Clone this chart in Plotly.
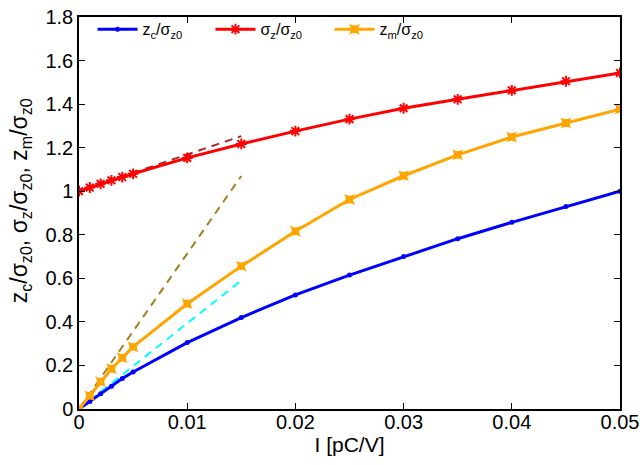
import plotly.graph_objects as go

# Intensity I [pC/V]
current = [0, 0.001, 0.002, 0.003, 0.004, 0.005, 0.01, 0.015, 0.02,
           0.025, 0.03, 0.035, 0.04, 0.045, 0.05]

# Normalised quantities
zc_ratio = [0, 0.035, 0.07, 0.105, 0.14, 0.17, 0.305, 0.42, 0.524,
            0.615, 0.70, 0.782, 0.857, 0.93, 1.0]
sigma_ratio = [1.0, 1.017, 1.034, 1.05, 1.065, 1.08, 1.153, 1.217, 1.276,
               1.331, 1.381, 1.422, 1.463, 1.505, 1.543]
zm_ratio = [0, 0.06, 0.125, 0.185, 0.235, 0.285, 0.483, 0.656, 0.816,
            0.962, 1.071, 1.167, 1.249, 1.313, 1.377]

# Small-current linear asymptotes
asym_x = [0, 0.015]
asym_sigma = [1.0, 1.253]
asym_zm = [0, 1.07]
asym_zc = [0, 0.59]

x_ticks = [0, 0.01, 0.02, 0.03, 0.04, 0.05]
x_tick_text = ["0", "0.01", "0.02", "0.03", "0.04", "0.05"]
y_ticks = [0, 0.2, 0.4, 0.6, 0.8, 1.0, 1.2, 1.4, 1.6, 1.8]
y_tick_text = ["0", "0.2", "0.4", "0.6", "0.8", "1", "1.2", "1.4", "1.6", "1.8"]

fig = go.Figure()

for ys, col in [(asym_sigma, "#a52a2a"), (asym_zm, "#a08020"), (asym_zc, "#00ffff")]:
    fig.add_trace(go.Scatter(x=asym_x, y=ys, mode="lines", showlegend=False,
                             line=dict(color=col, width=2, dash="8px,6px")))

fig.add_trace(go.Scatter(
    x=current, y=zc_ratio, mode="lines+markers",
    name="z<sub>c</sub>/σ<sub>z0</sub>", legend="legend",
    line=dict(color="#0000ff", width=3),
    marker=dict(symbol="circle", size=5, color="#0000ff")))
fig.add_trace(go.Scatter(
    x=current, y=sigma_ratio, mode="lines+markers",
    name="σ<sub>z</sub>/σ<sub>z0</sub>", legend="legend2",
    line=dict(color="#ff0000", width=3),
    marker=dict(symbol="asterisk-open", size=9, color="#ff0000",
                line=dict(color="#ff0000", width=2))))
fig.add_trace(go.Scatter(
    x=current, y=zm_ratio, mode="lines+markers",
    name="z<sub>m</sub>/σ<sub>z0</sub>", legend="legend3",
    line=dict(color="#ffa500", width=3),
    marker=dict(symbol="star-square", size=10, color="#ffa500")))

axis_common = dict(showline=True, linecolor="black", linewidth=1.5,
                   mirror="ticks", ticks="inside", ticklen=6, tickwidth=1,
                   tickcolor="black", showgrid=False, zeroline=False,
                   automargin=False,
                   tickfont=dict(size=20, color="black"))

fig.update_xaxes(range=[0, 0.05], tickvals=x_ticks, ticktext=x_tick_text,
                 ticklabelstandoff=-6,
                 title=dict(text="I [pC/V]", font=dict(size=21, color="black"),
                            standoff=0),
                 **axis_common)
fig.update_yaxes(range=[0, 1.8], tickvals=y_ticks, ticktext=y_tick_text,
                 **axis_common)

# Rotated y-axis label
fig.add_annotation(
    text="z<sub>c</sub>/σ<sub>z0</sub>, σ<sub>z</sub>/σ<sub>z0</sub>, z<sub>m</sub>/σ<sub>z0</sub>",
    xref="paper", yref="paper", x=-0.109, y=0.53,
    xanchor="center", yanchor="middle", textangle=-90, showarrow=False,
    font=dict(size=23, color="black"))

legend_common = dict(orientation="h", y=1.012, xanchor="left", yanchor="top",
                     bgcolor="rgba(0,0,0,0)", font=dict(size=16),
                     itemwidth=40)

fig.update_layout(
    width=643, height=465,
    margin=dict(l=79, r=23, t=14, b=56),
    paper_bgcolor="white", plot_bgcolor="white",
    font=dict(family="Liberation Sans, Arial, sans-serif", color="black"),
    legend=dict(x=0.025, **legend_common),
    legend2=dict(x=0.243, **legend_common),
    legend3=dict(x=0.463, **legend_common),
)

fig.write_html("out.html")
